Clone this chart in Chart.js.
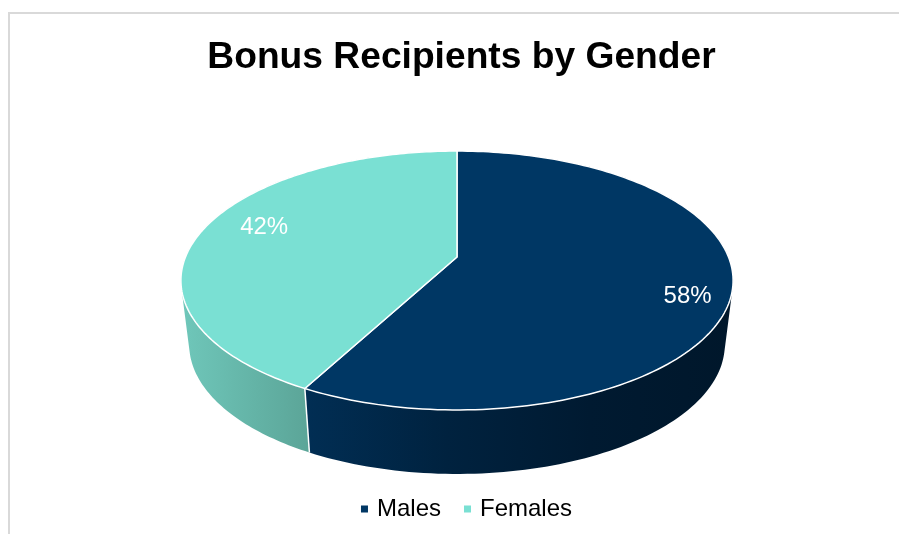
<!DOCTYPE html>
<html>
<head>
<meta charset="utf-8">
<style>
  html, body { margin: 0; padding: 0; background: #fff; overflow: hidden; }
  #wrap { position: relative; width: 899px; height: 534px; }
  #frame { position: absolute; left: 8px; top: 12px; right: 0; bottom: 0; border-left: 2px solid #d9d9d9; border-top: 2px solid #d9d9d9; }
  canvas { position: absolute; left: 0; top: 0; }
</style>
</head>
<body>
<div id="wrap">
  <div id="frame"></div>
  <canvas id="chart" width="899" height="534"></canvas>
</div>
<script src="https://cdn.jsdelivr.net/npm/chart.js@4"></script>
<script>
const categories = ['Males', 'Females'];
const shares = [57.8, 42.2];
const topColors = ['#003764', '#7ae0d3'];
const wallColors = [
  ['#012e54', '#00223f', '#001a31', '#00172b'],
  ['#6fc7ba', '#5ca699']
];
const labelNudge = [[-2, 13], [23, -5]];

// the pie is tilted, so the disc goes through a perspective mapping
const disc = { cx: 457, cy: 257, a: 271.5, b: 125.2, k: -0.1815 };
const depth = 64;
const bottomShrink = 0.97;
const legendShift = 6.5;

function project(angle, r, lower) {
  const u = Math.cos(angle) * r;
  const v = Math.sin(angle) * r;
  const w = 1 / (1 + disc.k * v);
  const sx = lower ? bottomShrink : 1;
  return {
    x: disc.cx + disc.a * sx * u * w,
    y: disc.cy + disc.b * v * w + (lower ? depth : 0)
  };
}

function arcPoints(start, end, lower) {
  const points = [];
  const steps = 160;
  for (let i = 0; i <= steps; i++) {
    points.push(project(start + (end - start) * i / steps, 1, lower));
  }
  return points;
}

function wallFill(ctx, index, arc) {
  const xs = arcPoints(arc.startAngle, arc.endAngle, false)
    .filter((p) => p.y > disc.cy)
    .map((p) => p.x);
  const gradient = ctx.createLinearGradient(Math.min(...xs), 0, Math.max(...xs), 0);
  const stops = wallColors[index];
  stops.forEach((color, i) => gradient.addColorStop(i / (stops.length - 1), color));
  return gradient;
}

// one quad per step, all wound the same way, so the outline picks up the side tangents
function traceWall(ctx, upper, lower) {
  for (let i = 0; i < upper.length - 1; i++) {
    let quad = [upper[i], upper[i + 1], lower[i + 1], lower[i]];
    let area = 0;
    quad.forEach((p, n) => {
      const q = quad[(n + 1) % 4];
      area += p.x * q.y - q.x * p.y;
    });
    if (area < 0) quad = quad.reverse();
    quad.forEach((p, n) => (n ? ctx.lineTo(p.x, p.y) : ctx.moveTo(p.x, p.y)));
    ctx.closePath();
  }
}

const tiltedPie = {
  id: 'tiltedPie',
  afterLayout(chart) {
    chart.legend.left += legendShift;
    chart.legend.right += legendShift;
  },
  beforeDatasetsDraw(chart) {
    const ctx = chart.ctx;
    const arcs = chart.getDatasetMeta(0).data;

    ctx.save();
    // side walls first, the top disc covers whatever sits behind it
    arcs.forEach((arc, i) => {
      const upper = arcPoints(arc.startAngle, arc.endAngle, false);
      const lower = arcPoints(arc.startAngle, arc.endAngle, true);
      ctx.beginPath();
      traceWall(ctx, upper, lower);
      ctx.fillStyle = wallFill(ctx, i, arc);
      ctx.fill();
    });

    arcs.forEach((arc) => {
      if (Math.sin(arc.startAngle) <= 0) return;
      const a = project(arc.startAngle, 1, false);
      const b = project(arc.startAngle, 1, true);
      ctx.beginPath();
      ctx.moveTo(a.x, a.y);
      ctx.lineTo(b.x, b.y);
      ctx.strokeStyle = '#fff';
      ctx.lineWidth = 1.5;
      ctx.stroke();
    });

    arcs.forEach((arc, i) => {
      const centre = project(0, 0, false);
      ctx.beginPath();
      ctx.moveTo(centre.x, centre.y);
      arcPoints(arc.startAngle, arc.endAngle, false).forEach((p) => ctx.lineTo(p.x, p.y));
      ctx.closePath();
      ctx.fillStyle = topColors[i];
      ctx.fill();
      ctx.strokeStyle = '#fff';
      ctx.lineWidth = 1.5;
      ctx.lineJoin = 'round';
      ctx.stroke();
    });

    ctx.fillStyle = '#fff';
    ctx.font = '24px "Liberation Sans", Arial, sans-serif';
    ctx.textAlign = 'center';
    ctx.textBaseline = 'middle';
    arcs.forEach((arc, i) => {
      const mid = project((arc.startAngle + arc.endAngle) / 2, 0.85, false);
      ctx.fillText(Math.round(shares[i]) + '%', mid.x + labelNudge[i][0], mid.y + labelNudge[i][1]);
    });
    ctx.restore();
    return false;
  }
};

new Chart(document.getElementById('chart'), {
  type: 'pie',
  data: {
    labels: categories,
    datasets: [{ data: shares, backgroundColor: topColors, borderWidth: 0 }]
  },
  plugins: [tiltedPie],
  options: {
    responsive: false,
    animation: false,
    layout: { padding: { left: 24, bottom: 3 } },
    plugins: {
      tooltip: { enabled: false },
      title: {
        display: true,
        text: 'Bonus Recipients by Gender',
        color: '#000',
        font: { family: '"Liberation Sans", Arial, sans-serif', size: 37.2, weight: 'bold' },
        padding: { top: 35, bottom: 10 }
      },
      legend: {
        display: true,
        position: 'bottom',
        labels: {
          color: '#000',
          font: { family: '"Liberation Sans", Arial, sans-serif', size: 24 },
          usePointStyle: true,
          pointStyle: 'rect',
          boxWidth: 1,
          boxHeight: 7,
          padding: 26
        }
      }
    }
  }
});
</script>
</body>
</html>
